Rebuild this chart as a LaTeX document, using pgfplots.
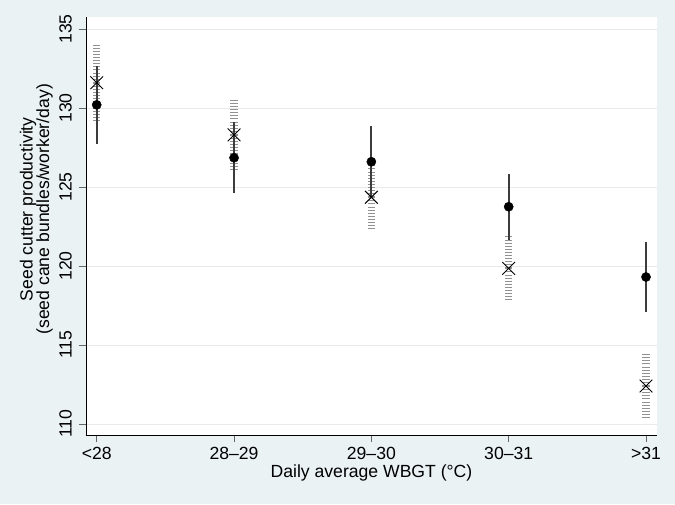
\documentclass[border=0pt]{standalone}
\usepackage{pgfplots}
\pgfplotsset{compat=1.18}
\usepackage{fontspec}
\setmainfont{Liberation Sans}
\definecolor{bgc}{RGB}{234,242,243}
\definecolor{gridc}{RGB}{234,234,234}
\definecolor{cic}{RGB}{60,60,60}
\definecolor{hatchc}{RGB}{145,145,145}
\begin{document}
\begin{tikzpicture}
\path[use as bounding box, fill=bgc] (-86pt,-69pt) rectangle (589pt,435pt);
\begin{axis}[
  at={(0pt,0pt)}, anchor=south west,
  scale only axis, width=571pt, height=418pt,
  axis background/.style={fill=white},
  xmin=-0.078, xmax=4.08,
  ymin=109.3, ymax=135.76,
  axis x line*=bottom, axis y line*=left,
  axis line style={black, line width=0.8pt, -},
  xtick={0,1,2,3,4},
  xticklabels={<28,28--29,29--30,30--31,>31},
  ytick={110,115,120,125,130,135},
  ymajorgrids, grid style={gridc, line width=0.6pt},
  tick align=outside, major tick length=7pt,
  tick style={black!60, line width=0.6pt},
  font=\fontsize{17.6}{20}\selectfont,
  /pgf/number format/assume math mode=true,
  yticklabel style={rotate=90, anchor=south, inner sep=0pt, yshift=7pt},
  xticklabel style={anchor=north, inner sep=0pt, yshift=-5pt},
  xlabel={Daily average WBGT (°C)},
  xlabel style={at={(axis description cs:0.5,0)}, anchor=north, yshift=-30pt, inner sep=0pt},
  ylabel={Seed cutter productivity\\(seed cane bundles/worker/day)},
  ylabel style={align=center, at={(axis description cs:0,0.54)}, anchor=south, rotate=0, yshift=33pt, inner sep=0pt, font=\fontsize{17.6}{16.5}\selectfont},
  clip=false,
]
% hatched CI (X series)
\addplot[draw=none, mark=none, forget plot,
  error bars/.cd, y dir=both, y explicit,
  error mark=none,
  error bar style={line width=7.5pt, hatchc, dash pattern=on 0.9pt off 2.2pt}]
  coordinates {
  (0,131.6) +- (0,2.55)
  (1,128.3) +- (0,2.2)
  (2,124.35) +- (0,2.15)
  (3,119.85) +- (0,2.05)
  (4,112.4) +- (0,2.05)
  };
% solid CI (dot series)
\addplot[draw=none, mark=none, forget plot,
  error bars/.cd, y dir=both, y explicit,
  error mark=none,
  error bar style={line width=1.8pt, cic, solid}]
  coordinates {
  (0,130.2) +- (0,2.45)
  (1,126.85) +- (0,2.25)
  (2,126.6) +- (0,2.25)
  (3,123.75) +- (0,2.1)
  (4,119.3) +- (0,2.2)
  };
% X markers
\addplot[only marks, mark=x, mark size=9pt, line width=0.9pt, black]
  coordinates {(0,131.6) (1,128.3) (2,124.35) (3,119.85) (4,112.4)};
% dot markers
\addplot[only marks, mark=*, mark size=4.6pt, black]
  coordinates {(0,130.2) (1,126.85) (2,126.6) (3,123.75) (4,119.3)};
\end{axis}
\end{tikzpicture}
\end{document}
